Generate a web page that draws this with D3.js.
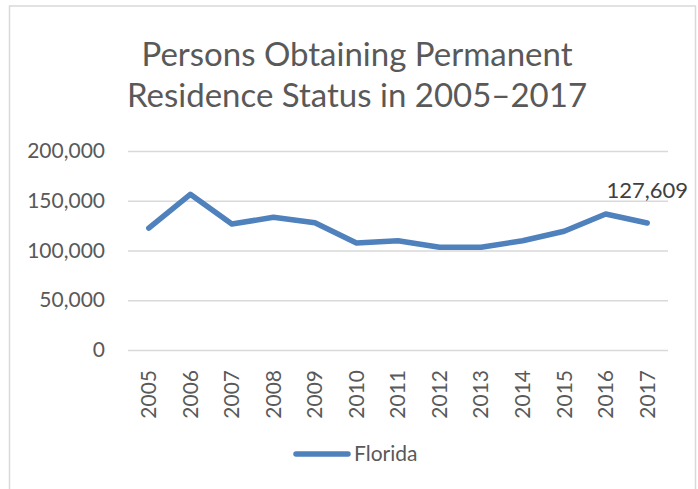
<!DOCTYPE html>
<html>
<head>
<meta charset="utf-8">
<script src="https://cdn.jsdelivr.net/npm/d3@7"></script>
<style>
  body { margin: 0; background: #fff; }
  text { font-family: Lato, "Open Sans", sans-serif; fill: #595959; }
</style>
</head>
<body>
<div id="chart"></div>
<script>

// data
var years = ["2005", "2006", "2007", "2008", "2009", "2010", "2011",
             "2012", "2013", "2014", "2015", "2016", "2017"];
var florida = [122600, 156500, 126600, 133400, 127900, 107500, 109800,
               103200, 103200, 109800, 119300, 136700, 127609];
var yTicks = [0, 50000, 100000, 150000, 200000];
var titleLines = ["Persons Obtaining Permanent", "Residence Status in 2005\u20132017"];
var seriesName = "Florida";

var width = 698,
    height = 489,
    margin = {top: 151, right: 30, bottom: 139, left: 128},
    plotW = width - margin.left - margin.right,
    plotH = height - margin.top - margin.bottom,
    lineColor = "#4f81bd",
    gridColor = "#d9d9d9",
    fmt = d3.format(",");

var svg = d3.select("#chart").append("svg")
    .attr("width", width)
    .attr("height", height);

// chart area border (bottom edge runs off the picture)
svg.append("rect")
    .attr("x", 9.5)
    .attr("y", 6)
    .attr("width", 686)
    .attr("height", 500)
    .attr("fill", "none")
    .attr("stroke", gridColor)
    .attr("stroke-width", 1.5);

// title
svg.append("g")
    .selectAll("text")
    .data(titleLines)
    .enter().append("text")
    .attr("x", 357)
    .attr("y", function (d, i) { return 66 + i * 41; })
    .attr("text-anchor", "middle")
    .attr("font-size", "33px")
    .text(function (d) { return d; });

var g = svg.append("g")
    .attr("transform", "translate(" + margin.left + "," + margin.top + ")");

var x = d3.scaleBand()
    .domain(years)
    .range([0, plotW]);

var y = d3.scaleLinear()
    .domain([0, 200000])
    .range([plotH, 0]);

// gridlines + y labels
var yAxis = d3.axisLeft(y)
    .tickValues(yTicks)
    .tickSize(-plotW)
    .tickPadding(23)
    .tickFormat(fmt);

g.append("g")
    .attr("class", "y-axis")
    .call(yAxis)
    .call(function (a) {
        a.select(".domain").remove();
        a.selectAll("line").attr("stroke", gridColor).attr("stroke-width", 1.5);
        a.selectAll("text").attr("font-size", "21px").attr("fill", "#595959")
            .style("font-family", "Lato, 'Open Sans', sans-serif");
    });

// x labels, rotated
var xAxis = d3.axisBottom(x)
    .tickSize(0)
    .tickPadding(0);

g.append("g")
    .attr("class", "x-axis")
    .attr("transform", "translate(0," + plotH + ")")
    .call(xAxis)
    .call(function (a) {
        a.select(".domain").remove();
        a.selectAll("text")
            .attr("font-size", "21px")
            .attr("fill", "#595959")
            .style("font-family", "Lato, 'Open Sans', sans-serif")
            .attr("transform", "rotate(-90)")
            .attr("text-anchor", "end")
            .attr("x", -20)
            .attr("y", 0)
            .attr("dy", "0.35em");
    });

// the line
var line = d3.line()
    .x(function (d, i) { return x(years[i]) + x.bandwidth() / 2; })
    .y(function (d) { return y(d); });

g.append("path")
    .datum(florida)
    .attr("d", line)
    .attr("fill", "none")
    .attr("stroke", lineColor)
    .attr("stroke-width", 5.5)
    .attr("stroke-linejoin", "round")
    .attr("stroke-linecap", "round");

// label on the last point
var last = florida.length - 1;
g.append("text")
    .attr("x", x(years[last]) + x.bandwidth() / 2)
    .attr("y", y(florida[last]) - 25)
    .attr("text-anchor", "middle")
    .attr("font-size", "22px")
    .style("fill", "#404040")
    .text(fmt(florida[last]));

// legend
var legend = svg.append("g")
    .attr("transform", "translate(294,454)");

legend.append("line")
    .attr("x1", 2)
    .attr("x2", 54)
    .attr("y1", 0)
    .attr("y2", 0)
    .attr("stroke", lineColor)
    .attr("stroke-width", 5.5)
    .attr("stroke-linecap", "round");

legend.append("text")
    .attr("x", 60)
    .attr("y", 7)
    .attr("font-size", "21px")
    .text(seriesName);

</script>
</body>
</html>
